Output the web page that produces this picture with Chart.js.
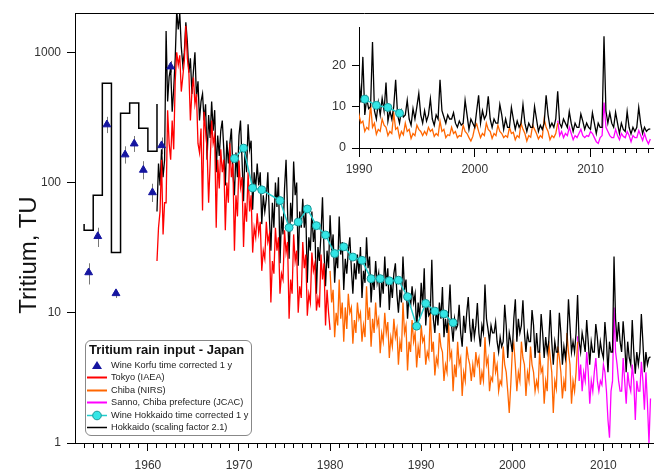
<!DOCTYPE html>
<html>
<head>
    <meta charset="utf-8">
    <title>Tritium rain input - Japan</title>
    <script src="https://cdn.jsdelivr.net/npm/chart.js"></script>
    <style>
        body { margin: 0; background: #fff; font-family: "Liberation Sans", Arial, sans-serif; overflow: hidden; }
        #wrap { position: relative; width: 654px; height: 471px; overflow: hidden; }
        /* canvases are 5px wider than the window: Chart.js keeps a 5px right margin */
        #main { position: absolute; left: 0; top: 0; }
        #inset { position: absolute; left: 318px; top: 14px; }
        #ytitle {
            position: absolute; left: -52px; top: 240px; width: 160px; height: 30px;
            line-height: 30px; font-size: 24px; color: #111; text-align: center;
            transform: rotate(-90deg);
        }
        #legend {
            position: absolute; left: 85px; top: 340px; width: 165px; height: 94px;
            border: 1px solid #888; border-radius: 6px; background: #fff;
        }
        #legendTitle { position: absolute; left: 3px; top: 1px; font-size: 13px; font-weight: bold; line-height: 15px; color: #111; }
        #legend .row { position: absolute; left: 0; height: 12.6px; line-height: 12.6px; font-size: 9.2px; color: #222; white-space: nowrap; }
        #legend .row svg { position: absolute; left: 0; top: 0; }
        #legend .row span { position: absolute; left: 25px; top: 0; }
    </style>
</head>
<body>
<div id="wrap">
    <canvas id="main" width="659" height="471"></canvas>
    <canvas id="inset" width="340" height="166"></canvas>
    <div id="ytitle">Tritium, TU</div>
    <div id="legend">
        <div id="legendTitle">Tritium rain input - Japan</div>
        <div class="row" style="top:17.7px"><svg width="22" height="13"><polygon points="11,2 16,10 6,10" fill="#1515a0"/></svg><span>Wine Korfu time corrected 1 y</span></div>
        <div class="row" style="top:30.2px"><svg width="22" height="13"><line x1="1" y1="6.5" x2="21" y2="6.5" stroke="#ff0000" stroke-width="2"/></svg><span>Tokyo (IAEA)</span></div>
        <div class="row" style="top:42.8px"><svg width="22" height="13"><line x1="1" y1="6.5" x2="21" y2="6.5" stroke="#ff6600" stroke-width="2"/></svg><span>Chiba (NIRS)</span></div>
        <div class="row" style="top:55.3px"><svg width="22" height="13"><line x1="1" y1="6.5" x2="21" y2="6.5" stroke="#ff00ff" stroke-width="2"/></svg><span>Sanno, Chiba prefecture (JCAC)</span></div>
        <div class="row" style="top:67.9px"><svg width="22" height="13"><line x1="1" y1="6.5" x2="21" y2="6.5" stroke="#22cccc" stroke-width="1.5"/><circle cx="11" cy="6.5" r="4.3" fill="#33e6e6" stroke="#1a9a9a" stroke-width="1"/></svg><span>Wine Hokkaido time corrected 1 y</span></div>
        <div class="row" style="top:80.4px"><svg width="22" height="13"><line x1="1" y1="6.5" x2="21" y2="6.5" stroke="#000" stroke-width="1.5"/></svg><span>Hokkaido (scaling factor 2.1)</span></div>
    </div>
</div>

<script>
    // Stepped Hokkaido reconstruction before the monthly record
    var stepYears = [1953, 1953, 1954, 1955, 1956, 1957, 1958, 1959, 1960, 1961];
    var stepValues = [48, 43, 80, 580, 29, 341, 409, 262, 174, 402];

    // Wine Korfu, time corrected 1 y (with error range)
    var korfuYears = [1953.5, 1954.5, 1955.5, 1956.5, 1957.5, 1958.5, 1959.5, 1960.5, 1961.5, 1962.5];
    var korfuValues = [20.4, 38.7, 279, 14.1, 164, 199, 125, 84, 193, 777];
    var korfuLow = [16.5, 32, 240, 13, 140, 172, 106, 71, 165, 700];
    var korfuHigh = [24, 45, 320, 15, 190, 228, 146, 98, 222, 860];

    // Wine Hokkaido, time corrected 1 y
    var wineYears = [1969.5, 1970.5, 1971.5, 1972.5, 1974.5, 1975.5, 1976.5, 1977.5, 1978.5, 1979.5,
        1980.5, 1981.5, 1982.5, 1983.5, 1984.5, 1985.5, 1986.5, 1987.5, 1988.5, 1989.5,
        1990.5, 1991.5, 1992.5, 1993.5];
    var wineValues = [153, 184, 91, 88, 72.7, 45.1, 49.8, 62.7, 46.7, 39.6,
        28.5, 32.1, 26.8, 25.3, 18.3, 18.3, 17.6, 17.8, 13.3, 7.9,
        11.8, 10.3, 9.8, 8.4];

    // Bimonthly readings (6 per year, one line per year) from the start year
    var hokkaidoStart = 1961;
    var hokkaido = [
        60, 140, 95, 180, 110, 150,
        1460, 420, 650, 760, 350, 520,
        900, 2100, 1500, 2000, 1100, 800,
        1000, 1700, 1200, 700, 900, 480,
        720, 1000, 450, 600, 300, 420,
        480, 300, 400, 150, 330, 220,
        420, 250, 360, 120, 230, 160,
        250, 300, 180, 95, 210, 140,
        200, 260, 120, 80, 170, 110,
        230, 300, 150, 72, 190, 120,
        280, 180, 210, 62, 120, 90,
        140, 95, 120, 48, 80, 60,
        75, 120, 55, 30, 70, 45,
        100, 65, 110, 24, 55, 40,
        90, 150, 60, 26, 70, 50,
        145, 80, 100, 23, 60, 45,
        75, 45, 60, 17, 38, 30,
        60, 35, 45, 14, 32, 25,
        40, 77, 30, 16, 30, 22,
        56, 30, 40, 17, 28, 22,
        55, 28, 35, 15, 26, 20,
        30, 38, 22, 14, 24, 18,
        28, 20, 32, 13, 21, 17,
        38, 22, 27, 12, 19, 15,
        25, 17, 20, 11, 18, 14,
        27, 16, 22, 10.5, 17, 13,
        20, 24, 14, 10, 15, 12,
        27, 15, 18, 9, 14, 11,
        16, 12, 14, 7.5, 12, 9,
        17, 11, 22, 8, 12, 9.5,
        10, 25.6, 9, 7, 11, 8,
        12, 9, 15.8, 6.5, 9, 7,
        10, 16.5, 8, 6, 9, 7.5,
        8, 11.5, 7, 5.5, 9.5, 7,
        10, 13.2, 8, 6, 9, 6.5,
        8, 11.9, 7, 5.5, 8, 7,
        16.5, 9, 7.5, 6, 8, 7,
        7, 8.5, 6, 5, 6.5, 5.5,
        6, 11.5, 8, 4.5, 7, 6,
        5, 9, 12.7, 6, 9, 7,
        8, 12.5, 7, 5, 7, 6,
        6, 10.5, 8, 4.5, 7, 5,
        5, 9.8, 7, 4.5, 6.5, 5,
        6, 10.5, 6, 4, 6, 5,
        5, 10, 7, 4, 5.5, 4.5,
        6, 12.7, 8, 5, 6, 5,
        7, 13.7, 6, 5, 7, 6,
        5, 8.8, 6, 4, 6, 5,
        5, 8.2, 6.5, 4.5, 6, 5,
        4.5, 8.5, 6, 3.5, 6, 5,
        5, 27, 9, 6, 8.5, 6,
        5, 8.6, 6, 3.5, 6, 4.5,
        4, 8.8, 5, 3.4, 5, 4,
        5, 9.8, 6, 3.5, 5, 4,
        4.5, 4.6
    ];

    var tokyoStart = 1961;
    var tokyo = [
        25, 45, 60, 150, 40, 70,
        70, 360, 200, 150, 300, 180,
        600, 1000, 800, 950, 500, 650,
        860, 1600, 900, 700, 300, 500,
        640, 400, 480, 200, 170, 260,
        61, 350, 250, 180, 70, 140,
        300, 200, 230, 45, 150, 90,
        180, 120, 150, 43, 100, 70,
        200, 110, 140, 30, 80, 55,
        148, 92, 110, 32, 70, 50,
        120, 60, 80, 29, 45, 38,
        58, 41, 50, 21, 30, 26,
        50, 35, 40, 12, 25, 20,
        45, 30, 38, 14, 20, 18,
        43, 29, 35, 9, 18, 14,
        40, 25, 30, 10, 16, 13,
        35, 22, 28, 9.5, 14, 12,
        29, 21, 24, 10.4, 13, 11,
        28, 18, 24, 8, 15, 10,
        7.4
    ];

    var chibaStart = 1980;
    var chiba = [
        21, 12, 15, 6.5, 10, 8,
        18, 9, 12, 6, 11, 7.5,
        14, 10, 11, 5.8, 8.8, 7,
        12, 9, 10, 6, 8, 6.5,
        16, 8.8, 11, 5.5, 9, 7,
        12, 8, 9, 4.9, 7, 6,
        10, 7, 8.5, 4.5, 6.5, 5.5,
        9, 6.5, 7.5, 4, 6, 5,
        12, 7, 8, 3.6, 6, 5,
        8.8, 6, 7, 3.8, 5.5, 4.5,
        8, 6, 6.5, 4, 5, 4.5,
        10.5, 5, 6, 3.3, 4.5, 4,
        7, 5.5, 5, 3, 4, 3.5,
        8.4, 4.5, 5, 2.5, 4, 3.2,
        6, 4, 4.5, 2.3, 3.5, 3,
        5.5, 4.5, 4, 3, 4, 3.2,
        5, 4, 4.5, 2.8, 3.5, 3,
        6.5, 4, 4.5, 2.5, 3.2, 3,
        5, 3.5, 4, 2.5, 3, 2.8,
        5.5, 4, 3.5, 2.5, 1.7, 2.8,
        5, 5.8, 4, 2.5, 3.5, 3,
        6, 4.5, 4, 2.3, 3.5, 3,
        5.5, 4, 3.5, 2.5, 3, 2.6,
        5, 3.5, 3.8, 2, 3, 2.5,
        6, 4.5, 3.5, 1.7, 3, 2.6,
        5.5, 4.5, 3.5, 2.2, 3, 2.5,
        7, 5, 4, 2, 3, 2.5,
        3.5, 6
    ];

    var sannoStart = 2007.17;
    var sanno = [
        6.6, 3, 4, 2.5, 3.5,
        3, 5, 3.5, 2, 3, 2.5,
        3.5, 4.5, 3, 2.5, 3, 2.8,
        4, 3.5, 2.5, 1.5, 1.1, 2.5,
        3, 11, 5, 4, 3, 2.5,
        2.5, 4.5, 3, 2, 3.5, 2.8,
        2.5, 4, 3, 1.5, 3, 2.5,
        2.5, 4.2, 3, 1.8, 3.5, 2,
        1.0, 2.2
    ];

    var mainYTicks = [1, 10, 100, 1000];
    var mainXLabels = [1960, 1970, 1980, 1990, 2000, 2010];
    var insetYTicks = [0, 10, 20];
    var insetXLabels = [1990, 2000, 2010];

    function bimonthly(start, values) {
        return values.map(function(v, i) { return { x: start + i / 6, y: v }; });
    }
    function pairs(xs, ys) {
        return xs.map(function(x, i) { return { x: x, y: ys[i] }; });
    }
    function yearRange(a, b) {
        var out = [];
        for (var y = a; y <= b; y++) out.push({ value: y });
        return out;
    }
    function noSidePadding(s) {
        s.paddingLeft = 0;
        s.paddingRight = 0;
    }

    Chart.defaults.font.family = '"Liberation Sans", Arial, sans-serif';
    Chart.defaults.color = '#333';

    var hokkaidoPts = bimonthly(hokkaidoStart, hokkaido);
    var tokyoPts = bimonthly(tokyoStart, tokyo);
    var chibaPts = bimonthly(chibaStart, chiba);
    var sannoPts = bimonthly(sannoStart, sanno);
    var winePts = pairs(wineYears, wineValues);

    // error bars for Korfu wine
    var korfuErrors = {
        id: 'korfuErrors',
        beforeDatasetsDraw: function(chart) {
            var ctx = chart.ctx, xs = chart.scales.x, ys = chart.scales.y;
            ctx.save();
            ctx.strokeStyle = '#777';
            ctx.lineWidth = 1;
            korfuYears.forEach(function(yr, i) {
                var px = Math.round(xs.getPixelForValue(yr)) + 0.5;
                ctx.beginPath();
                ctx.moveTo(px, ys.getPixelForValue(korfuLow[i]));
                ctx.lineTo(px, ys.getPixelForValue(korfuHigh[i]));
                ctx.stroke();
            });
            ctx.restore();
        }
    };

    function lineSet(label, data, color, order, extra) {
        var ds = {
            label: label, data: data, borderColor: color, backgroundColor: color,
            borderWidth: 1.3, pointRadius: 0, tension: 0, order: order,
            xAxisID: 'x', yAxisID: 'y'
        };
        for (var k in extra) ds[k] = extra[k];
        return ds;
    }

    new Chart(document.getElementById('main').getContext('2d'), {
        type: 'line',
        data: {
            datasets: [
                {
                    label: 'Wine Korfu time corrected 1 y',
                    data: pairs(korfuYears, korfuValues), showLine: false,
                    pointStyle: 'triangle', pointRadius: 4.5, pointBackgroundColor: '#1515a0',
                    pointBorderColor: '#1515a0', order: 0, xAxisID: 'x', yAxisID: 'y'
                },
                lineSet('Wine Hokkaido time corrected 1 y', winePts, '#22cccc', 1, {
                    pointRadius: 4, pointBackgroundColor: '#33e6e6', pointBorderColor: '#1a9a9a',
                    pointBorderWidth: 1, borderWidth: 1.5
                }),
                lineSet('Tokyo (IAEA)', tokyoPts, '#ff0000', 2),
                lineSet('Hokkaido (scaling factor 2.1)', hokkaidoPts, '#000000', 3),
                lineSet('Hokkaido step', pairs(stepYears, stepValues), '#000000', 3, { stepped: true, borderWidth: 1.5 }),
                lineSet('Chiba (NIRS)', chibaPts, '#ff6600', 4),
                lineSet('Sanno, Chiba prefecture (JCAC)', sannoPts, '#ff00ff', 4)
            ]
        },
        options: {
            responsive: false,
            animation: false,
            devicePixelRatio: 1,
            layout: { padding: { top: 13, right: 0, left: 0, bottom: 0 } },
            plugins: { legend: { display: false }, tooltip: { enabled: false } },
            scales: {
                x: {
                    type: 'linear', axis: 'x', position: 'bottom', weight: 1, min: 1952, max: 2015.5,
                    afterBuildTicks: function(s) { s.ticks = mainXLabels.map(function(v) { return { value: v }; }); },
                    ticks: { font: { size: 12 }, padding: 7, maxRotation: 0, autoSkip: false, color: '#333',
                        callback: function(v) { return String(v); } },
                    grid: { drawOnChartArea: false, tickLength: 8, color: '#000' },
                    border: { color: '#000', width: 1 },
                    afterFit: function(s) { s.height = 28; noSidePadding(s); }
                },
                xMinor: {
                    type: 'linear', axis: 'x', position: 'bottom', weight: 0, min: 1952, max: 2015.5,
                    afterBuildTicks: function(s) { s.ticks = yearRange(1953, 2015); },
                    ticks: { display: false },
                    grid: { drawOnChartArea: false, tickLength: 5, color: '#000' },
                    border: { display: false },
                    afterFit: function(s) { s.height = 0; noSidePadding(s); }
                },
                xTop: {
                    type: 'linear', axis: 'x', position: 'top', min: 1952, max: 2015.5,
                    ticks: { display: false },
                    grid: { drawOnChartArea: false, drawTicks: false },
                    border: { color: '#000', width: 1 },
                    afterFit: function(s) { s.height = 0; noSidePadding(s); }
                },
                y: {
                    type: 'logarithmic', min: 1, max: 2000,
                    afterBuildTicks: function(s) { s.ticks = mainYTicks.map(function(v) { return { value: v }; }); },
                    ticks: { font: { size: 12 }, padding: 6, color: '#333',
                        callback: function(v) { return String(v); } },
                    grid: { drawOnChartArea: false, tickLength: 8, color: '#000' },
                    border: { color: '#000', width: 1 },
                    afterFit: function(s) { s.width = 75; }
                }
            }
        },
        plugins: [korfuErrors]
    });

    // inset 1990-2015, linear scale
    function from1990(pts) {
        return pts.filter(function(p) { return p.x >= 1989.8; });
    }

    new Chart(document.getElementById('inset').getContext('2d'), {
        type: 'line',
        data: {
            datasets: [
                lineSet('Wine Hokkaido time corrected 1 y', from1990(winePts), '#22cccc', 1, {
                    pointRadius: 4, pointBackgroundColor: '#33e6e6', pointBorderColor: '#1a9a9a',
                    pointBorderWidth: 1, borderWidth: 1.5
                }),
                lineSet('Hokkaido (scaling factor 2.1)', from1990(hokkaidoPts), '#000000', 3),
                lineSet('Chiba (NIRS)', from1990(chibaPts), '#ff6600', 4),
                lineSet('Sanno, Chiba prefecture (JCAC)', sannoPts, '#ff00ff', 4)
            ]
        },
        options: {
            responsive: false,
            animation: false,
            devicePixelRatio: 1,
            layout: { padding: { top: 0, right: 0, left: 0, bottom: 0 } },
            plugins: { legend: { display: false }, tooltip: { enabled: false } },
            scales: {
                x: {
                    type: 'linear', axis: 'x', position: 'bottom', weight: 1, min: 1990, max: 2015.4,
                    afterBuildTicks: function(s) { s.ticks = insetXLabels.map(function(v) { return { value: v }; }); },
                    ticks: { font: { size: 12 }, padding: 5, maxRotation: 0, autoSkip: false, color: '#333',
                        callback: function(v) { return String(v); } },
                    grid: { drawOnChartArea: false, tickLength: 9, color: '#000' },
                    border: { color: '#000', width: 1 },
                    afterFit: function(s) { s.height = 32; noSidePadding(s); }
                },
                xMinor: {
                    type: 'linear', axis: 'x', position: 'bottom', weight: 0, min: 1990, max: 2015.4,
                    afterBuildTicks: function(s) { s.ticks = yearRange(1991, 2015); },
                    ticks: { display: false },
                    grid: { drawOnChartArea: false, tickLength: 5, color: '#000' },
                    border: { display: false },
                    afterFit: function(s) { s.height = 0; noSidePadding(s); }
                },
                y: {
                    type: 'linear', min: 0, max: 29.1,
                    afterBuildTicks: function(s) { s.ticks = insetYTicks.map(function(v) { return { value: v }; }); },
                    ticks: { font: { size: 12.5 }, padding: 6, color: '#333' },
                    grid: { drawOnChartArea: false, tickLength: 7, color: '#000' },
                    border: { color: '#000', width: 1 },
                    afterFit: function(s) { s.width = 41; }
                }
            }
        }
    });
</script>
</body>
</html>
